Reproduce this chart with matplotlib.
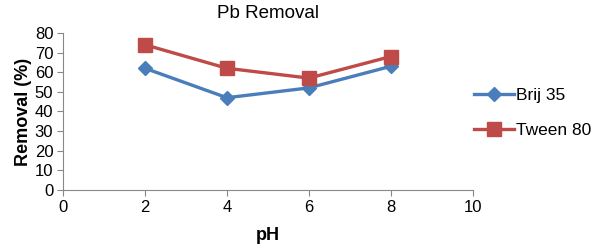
import matplotlib
matplotlib.use("Agg")
import matplotlib.pyplot as plt

ph = [2, 4, 6, 8]
brij = [62, 47, 52, 63]
tween = [74, 62, 57, 68]

plt.rcParams['font.family'] = ['Liberation Sans', 'DejaVu Sans']

fig = plt.figure(figsize=(6, 2.46), dpi=100)
ax = fig.add_axes([0.105, 0.228, 0.683, 0.638])

ax.plot(ph, brij, color='#4a7ebb', lw=2.4, marker='D', ms=7.5, label='Brij 35')
ax.plot(ph, tween, color='#be4b48', lw=2.4, marker='s', ms=10.5, label='Tween 80')

ax.set_xlim(0, 10)
ax.set_ylim(0, 80)
ax.set_xticks(range(0, 11, 2))
ax.set_yticks(range(0, 81, 10))
for s in ['top', 'right']:
    ax.spines[s].set_visible(False)
for s in ['left', 'bottom']:
    ax.spines[s].set_color('#888888')
ax.tick_params(colors='#888888', labelcolor='black', labelsize=12, length=4, direction='out', pad=3)

ax.set_title('Pb Removal', fontsize=13.5, pad=11)
ax.set_xlabel('pH', fontsize=13, fontweight='bold', labelpad=9)
ax.set_ylabel('Removal (%)', fontsize=13, fontweight='bold', labelpad=2)

ax.legend(loc='center left', bbox_to_anchor=(1.003, 0.49), frameon=False, fontsize=12.5,
          handlelength=2.3, handletextpad=0.1, labelspacing=1.1,
          borderpad=0, borderaxespad=0)

fig.savefig('out.png', dpi=100)
